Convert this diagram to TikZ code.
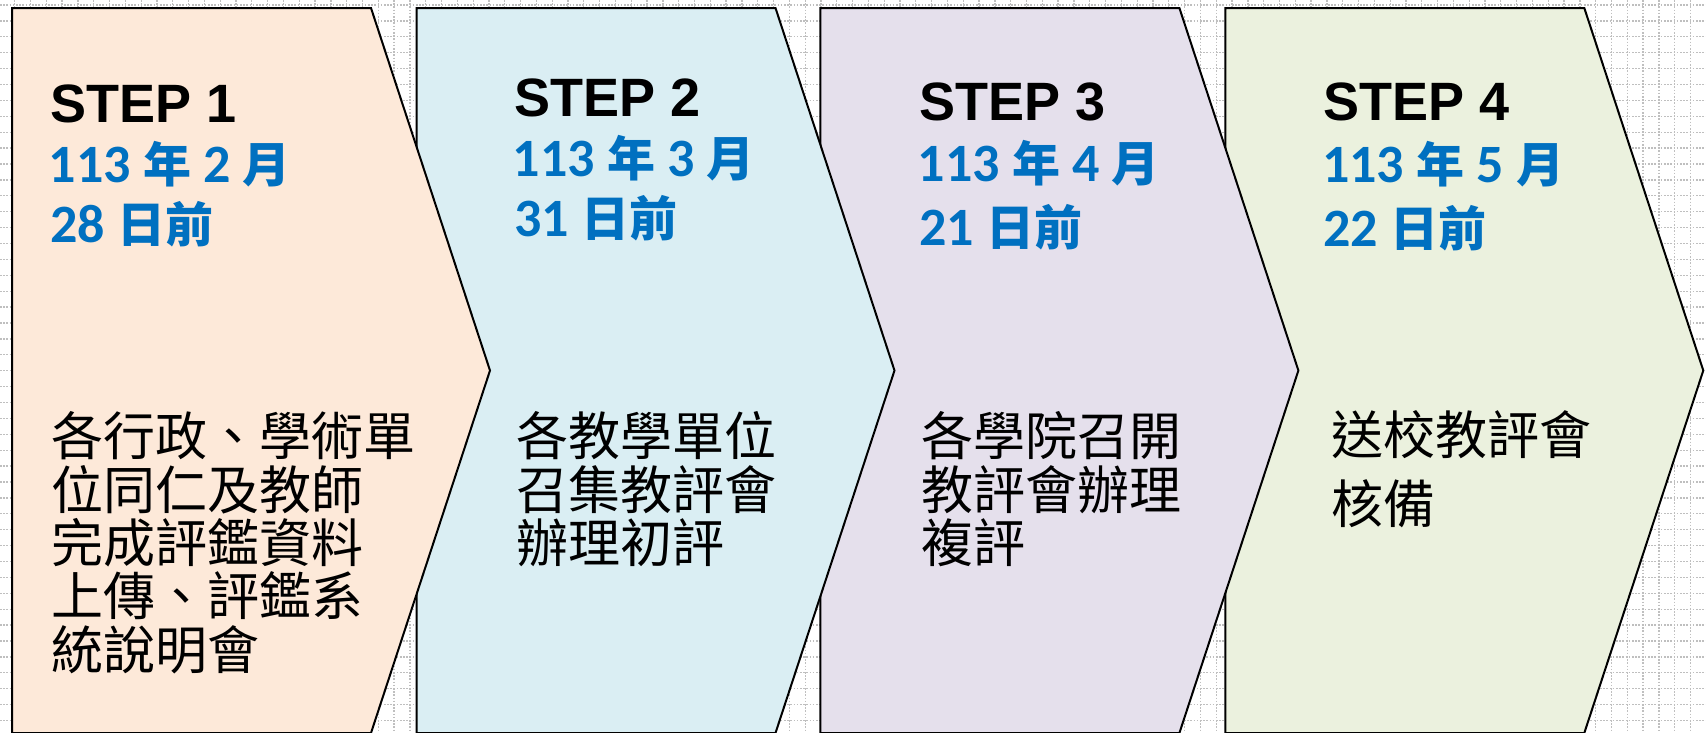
\documentclass[tikz,border=0pt]{standalone}
\usepackage{fontspec}
\setmainfont{Liberation Sans}
\newfontfamily\cjkfont{Noto Sans CJK TC}
\newfontfamily\calfont{Carlito}
\definecolor{peach}{HTML}{FDE9D9}
\definecolor{lblue}{HTML}{DAEEF3}
\definecolor{lav}{HTML}{E5E0EC}
\definecolor{lgreen}{HTML}{EBF1DE}
\definecolor{dblue}{HTML}{0070C0}
\definecolor{gridc}{HTML}{BFBFBF}
\newcommand{\hz}[1]{{\cjkfont\bfseries\fontsize{48}{60}\selectfont #1}}
\begin{document}
\begin{tikzpicture}[x=1pt,y=-1pt,
  steptitle/.style={anchor=base west, inner sep=0, font=\bfseries\fontsize{54}{60}\selectfont},
  datetext/.style={anchor=base west, inner sep=0, text=dblue, font=\calfont\bfseries\fontsize{54}{60}\selectfont},
  bodytext/.style={anchor=north west, inner sep=0, align=left, font=\cjkfont\fontsize{52}{53.3}\selectfont},
  bodywide/.style={bodytext, font=\cjkfont\fontsize{52}{69}\selectfont},
  chev/.style={draw=black, line width=2pt, line join=miter},
  gridline/.style={gridc, line width=1.3pt, dash pattern=on 1.6pt off 1.6pt}]
\useasboundingbox (0,0) rectangle (1706,732);
\clip (0,0) rectangle (1706,732);
\fill[white] (0,0) rectangle (1706,732);
% background grid
\foreach \i in {0,...,107} \draw[gridline] (14.67+15.81*\i,0) -- (14.67+15.81*\i,732);
\foreach \j in {0,...,45} \draw[gridline] (0,5+15.9*\j) -- (1706,5+15.9*\j);
% chevrons (drawn right to left so each tip overlaps the next box)
\foreach \L/\c in {1225.3/lgreen, 820.4/lav, 416.5/lblue, 12/peach}
  \filldraw[chev, fill=\c] (\L,8) -- ++(359,0) -- ++(119,362.5) -- ++(-119,362.5) -- ++(-359,0) -- cycle;
% step 1
\node[steptitle] (t1) at (50.2,122.7) {STEP 1};
\node[datetext] (d1) at (48.5,182.7) {113~\hz{年}~2~\hz{月}};
\node[datetext] (e1) at (50,242.7) {28~\hz{日前}};
\node[bodytext] (b1) at (51,411.5) {各行政、學術單\\位同仁及教師\\完成評鑑資料\\上傳、評鑑系\\統說明會};
% step 2
\node[steptitle] (t2) at (514.2,116.7) {STEP 2};
\node[datetext] (d2) at (512.5,176.7) {113~\hz{年}~3~\hz{月}};
\node[datetext] (e2) at (514,236.7) {31~\hz{日前}};
\node[bodytext] (b2) at (516,411.5) {各教學單位\\召集教評會\\辦理初評};
% step 3
\node[steptitle] (t3) at (919.2,120) {STEP 3};
\node[datetext] (d3) at (917.5,181.7) {113~\hz{年}~4~\hz{月}};
\node[datetext] (e3) at (919,245) {21~\hz{日前}};
\node[bodytext] (b3) at (921,411.5) {各學院召開\\教評會辦理\\複評};
% step 4
\node[steptitle] (t4) at (1323.5,120) {STEP 4};
\node[datetext] (d4) at (1321.8,182.7) {113~\hz{年}~5~\hz{月}};
\node[datetext] (e4) at (1323.3,246.7) {22~\hz{日前}};
\node[bodywide] (b4) at (1331,410) {送校教評會\\核備};
\end{tikzpicture}
\end{document}
